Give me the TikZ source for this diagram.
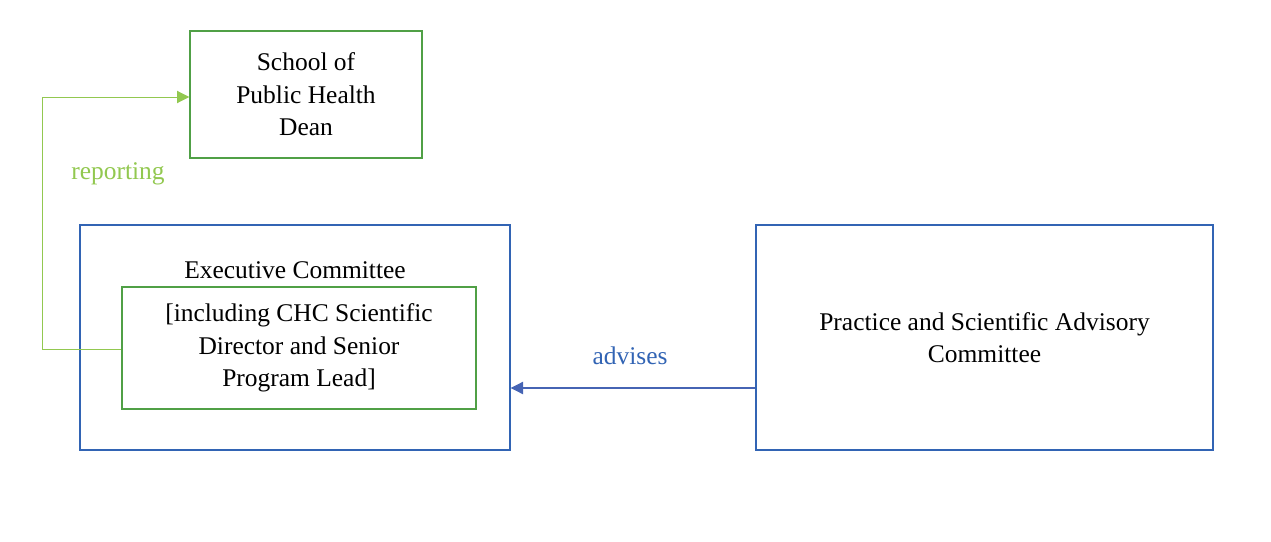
\documentclass[tikz,border=0pt]{standalone}
\usepackage{fontspec}
\setmainfont{Liberation Serif}
\usetikzlibrary{arrows.meta}
\definecolor{bgreen}{RGB}{80,160,70}
\definecolor{lgreen}{RGB}{146,200,80}
\definecolor{bblue}{RGB}{50,100,180}
\definecolor{ablue}{RGB}{70,100,180}
\begin{document}
\begin{tikzpicture}[x=0.02cm,y=-0.02cm,
  txt/.style={font=\fontsize{14.5}{18.5}\selectfont,align=center,inner sep=0},
  gbox/.style={draw=bgreen,line width=0.8pt},
  bbox/.style={draw=bblue,line width=0.8pt}]
\useasboundingbox (0,0) rectangle (1271,541);
\node[gbox,minimum width=232*0.02cm,minimum height=127*0.02cm] (dean) at (306,94.5) {};
\node[txt] at (dean) {School of\\Public Health\\Dean};
\node[bbox,minimum width=430*0.02cm,minimum height=225*0.02cm] (exec) at (295,337.5) {};
\node[txt] (et) at (295,270) {Executive Committee};
\node[gbox,minimum width=354*0.02cm,minimum height=122*0.02cm] (inner) at (299,348) {};
\node[txt] at (inner) {[including CHC Scientific\\Director and Senior\\Program Lead]};
\node[bbox,minimum width=457*0.02cm,minimum height=225*0.02cm] (prac) at (984.5,337.5) {};
\node[txt] at (prac) {Practice and Scientific Advisory\\Committee};
\coordinate (c1) at (42,349);
\coordinate (c2) at (42,97);
\draw[lgreen,line width=0.5pt,-{Triangle[length=7pt,width=7pt]}] (inner.west |- c1) -- (c1) -- (c2) -- (dean.west |- c2);
\node[txt,text=lgreen] at (118,174) {reporting};
\draw[ablue,line width=0.6pt,-{Triangle[length=7pt,width=7pt]}] (prac.west |- 0,388) -- (exec.east |- 0,388);
\node[txt,text=bblue] at (630,356) {advises};
\end{tikzpicture}
\end{document}
